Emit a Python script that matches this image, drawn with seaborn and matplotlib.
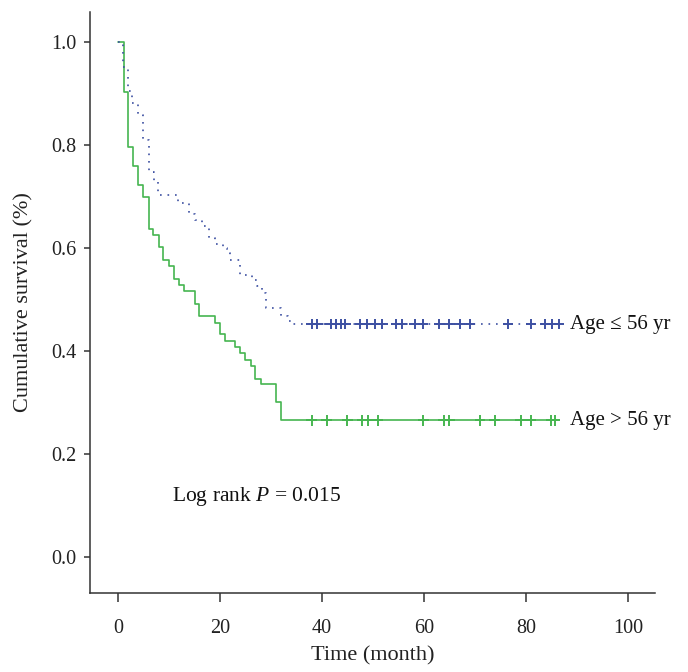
#!/usr/bin/env python3
import numpy as np
import pandas as pd
import seaborn as sns
from matplotlib import pyplot as plt

# Age > 56 yr: event times (month) and survival after each step
green_times = [0, 1.1, 1.9, 3.0, 4.0, 4.9, 6.0, 6.9, 8.0, 8.9, 10.0, 11.0, 12.0, 12.9,
               15.0, 15.9, 19.0, 19.9, 21.0, 22.9, 23.9, 24.9, 26.0, 26.9, 28.0, 31.0, 32.0]
green_surv = [1.0, 0.903, 0.795, 0.758, 0.722, 0.698, 0.636, 0.625, 0.601, 0.577, 0.564,
              0.540, 0.528, 0.516, 0.491, 0.468, 0.455, 0.432, 0.419, 0.408, 0.396, 0.383,
              0.371, 0.346, 0.335, 0.300, 0.265]
green_censor = [38.0, 40.9, 45.0, 47.9, 49.1, 51.0, 59.9, 63.9, 65.0, 71.0, 73.9, 79.0,
                80.9, 85.0, 85.7]

# Age <= 56 yr
blue_times = [0, 1.0, 1.9, 2.8, 3.9, 4.9, 6.0, 7.0, 7.9, 11.8, 13.9, 15.0, 16.5, 17.9,
              19.0, 20.5, 21.3, 22.0, 23.9, 26.3, 27.3, 28.2, 29.0, 31.9, 33.3, 34.4]
blue_surv = [1.0, 0.952, 0.905, 0.881, 0.857, 0.810, 0.748, 0.730, 0.702, 0.687, 0.665,
             0.655, 0.643, 0.620, 0.608, 0.599, 0.590, 0.577, 0.548, 0.537, 0.526, 0.513,
             0.483, 0.467, 0.458, 0.452]
blue_censor = [38.0, 39.1, 41.7, 42.7, 43.7, 44.6, 47.5, 48.9, 50.4, 51.8, 54.6, 55.6,
               58.2, 59.8, 63.0, 65.0, 67.0, 69.0, 76.5, 81.0, 83.8, 85.2, 86.5]

labels = ["Age > 56 yr", "Age \u2264 56 yr"]
colors = {"Age > 56 yr": "#46b550", "Age \u2264 56 yr": "#3d50a2"}
x_ticks = [0, 20, 40, 60, 80, 100]
y_ticks = [0.0, 0.2, 0.4, 0.6, 0.8, 1.0]


def step_value(times, surv, t):
    idx = np.searchsorted(times, t, side="right") - 1
    return np.asarray(surv)[idx]


def main():
    sns.set_style("ticks")
    plt.rcParams["font.family"] = ["Liberation Serif", "DejaVu Serif"]
    plt.rcParams["mathtext.fontset"] = "custom"
    plt.rcParams["mathtext.rm"] = "Liberation Serif"
    plt.rcParams["mathtext.it"] = "Liberation Serif:italic"

    curves = []
    censors = []
    for label, times, surv, cens in [(labels[0], green_times, green_surv, green_censor),
                                     (labels[1], blue_times, blue_surv, blue_censor)]:
        curves.append(pd.DataFrame({"Time": list(times) + [cens[-1]],
                                    "Survival": list(surv) + [surv[-1]],
                                    "Group": label}))
        censors.append(pd.DataFrame({"Time": cens,
                                     "Survival": step_value(times, surv, cens),
                                     "Group": label}))
    curves = pd.concat(curves, ignore_index=True)
    censors = pd.concat(censors, ignore_index=True)

    fig = plt.figure(figsize=(6.88, 6.72), dpi=100)
    ax = fig.add_axes([0.1308, 0.1176, 0.8212, 0.8646])

    sns.lineplot(curves, x="Time", y="Survival", hue="Group", style="Group",
                 palette=colors, dashes={labels[0]: "", labels[1]: (1, 3.5)},
                 estimator=None, sort=False, drawstyle="steps-post", linewidth=1.2,
                 legend=False, ax=ax)
    sns.scatterplot(censors, x="Time", y="Survival", hue="Group", palette=colors,
                    marker="+", s=60, linewidth=1.4, legend=False, ax=ax, zorder=3)

    ax.set_xlim(-5.5, 105.3)
    ax.set_ylim(-0.07, 1.058)
    ax.set_xticks(x_ticks)
    ax.set_yticks(y_ticks, [f"{v:.1f}" for v in y_ticks])
    ax.tick_params(labelsize=14.5, width=1.1, color="#333333", labelcolor="#222222")
    ax.tick_params(axis="x", length=6.5, pad=12)
    ax.tick_params(axis="y", length=4.5, pad=5)
    for side in ["left", "bottom"]:
        ax.spines[side].set_linewidth(1.1)
        ax.spines[side].set_color("#333333")
    sns.despine(ax=ax)

    ax.set_xlabel("Time (month)", fontsize=16, color="#222222", labelpad=6)
    ax.set_ylabel("Cumulative survival (%)", fontsize=16, color="#222222", labelpad=13)

    ax.text(88.6, blue_surv[-1], labels[1], fontsize=15, va="center", ha="left",
            color="#111111")
    ax.text(88.6, green_surv[-1], labels[0], fontsize=15, va="center", ha="left",
            color="#111111")
    ax.text(10.6, 0.117, r"Log rank $\mathit{P}$ = 0.015", fontsize=15.5, va="center",
            ha="left", color="#111111")

    fig.savefig("out.png", dpi=100)
    plt.close(fig)


if __name__ == '__main__':
    main()
